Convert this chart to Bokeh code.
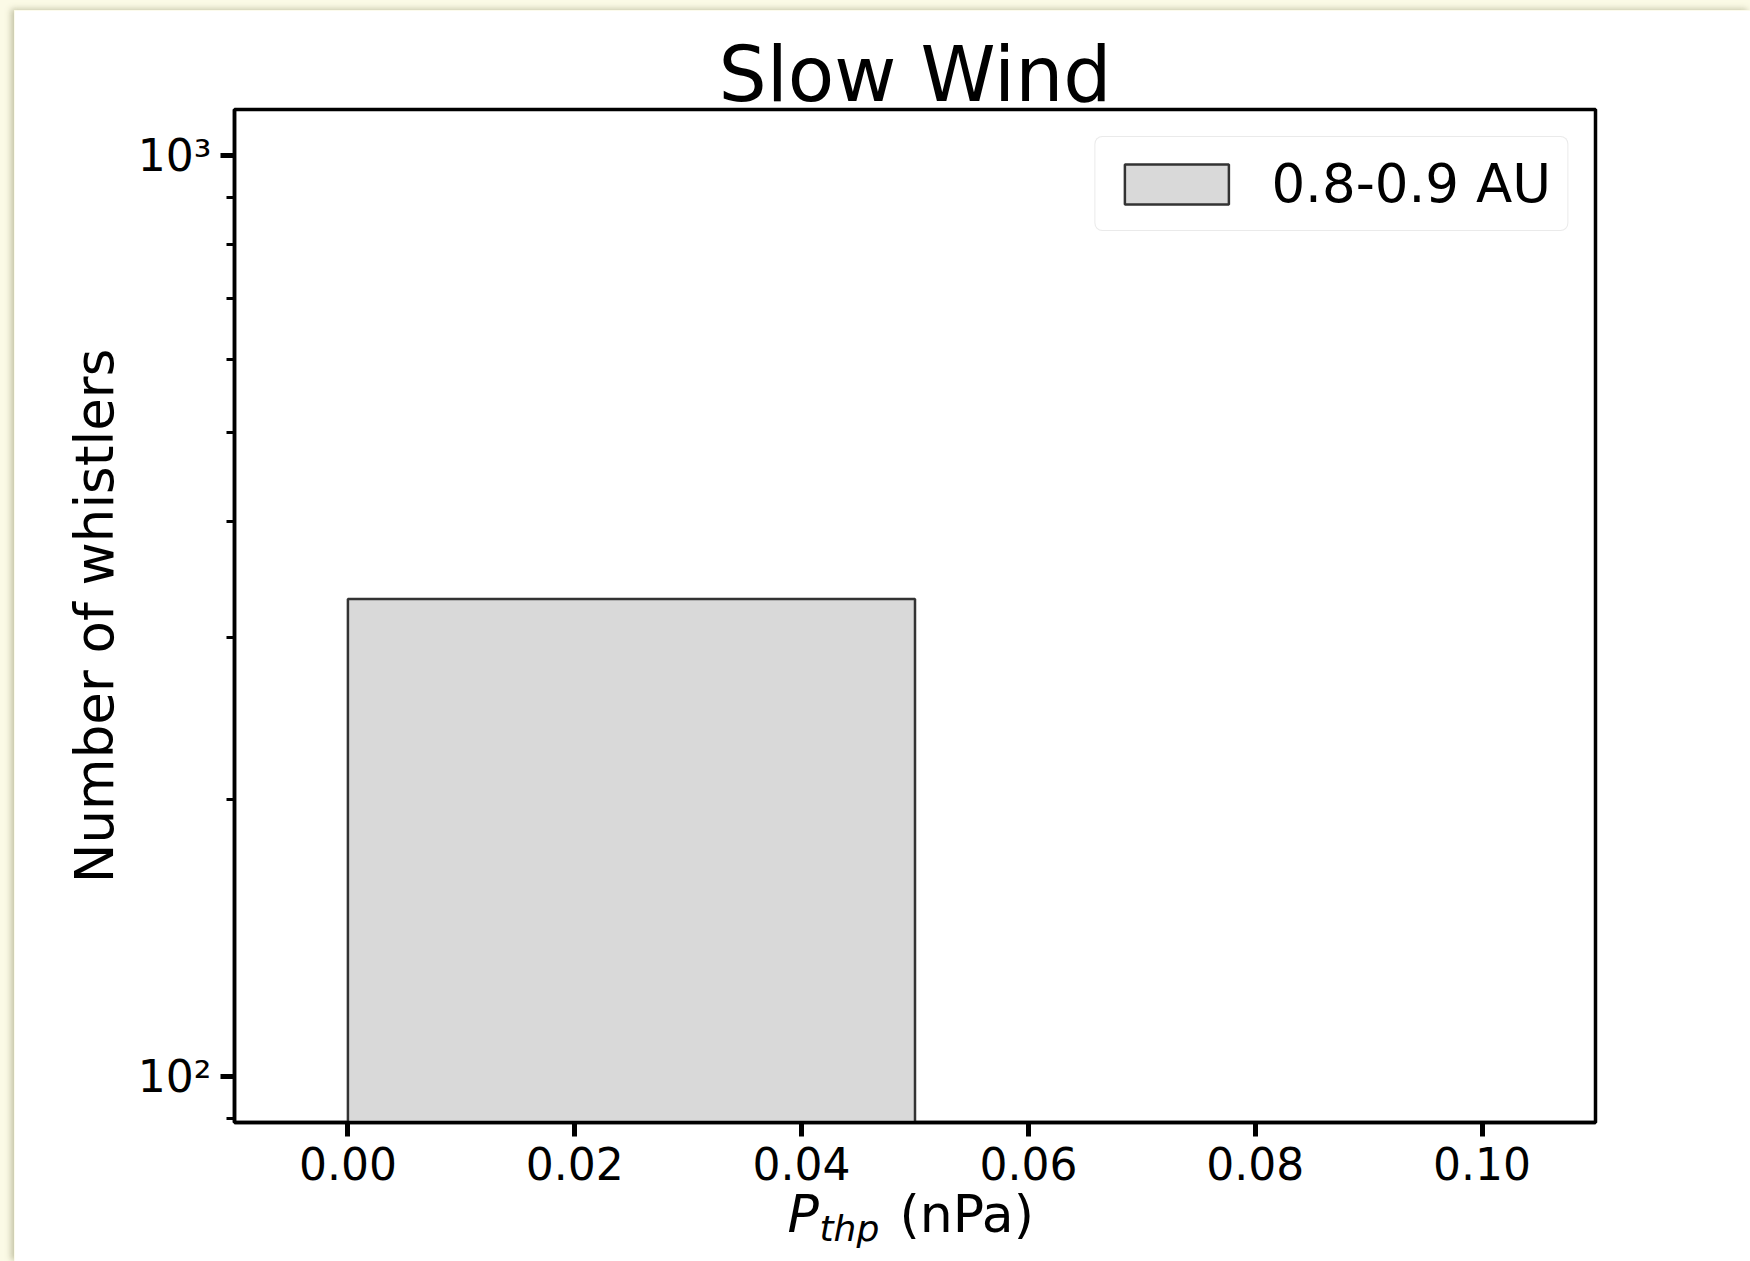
from bokeh.plotting import figure
from bokeh.models import Range1d, FixedTicker, Label, Legend, LegendItem
from bokeh.layouts import column
from bokeh.embed import file_html
from bokeh.resources import INLINE

# ---- data ----
bin_left = [0.00]
bin_right = [0.05]
counts = [330]
series_label = "0.8-0.9 AU"

x_ticks = [0.00, 0.02, 0.04, 0.06, 0.08, 0.10]
x_tick_labels = ["0.00", "0.02", "0.04", "0.06", "0.08", "0.10"]
y_ticks = [100, 1000]
y_tick_labels = ["10\u00b2", "10\u00b3"]
y_minor = [90, 200, 300, 400, 500, 600, 700, 800, 900]

title_text = "Slow Wind"
y_label = "Number of whistlers"
x_label_main = "P"
x_label_sub = "thp"
x_label_unit = "(nPa)"

FONT = "DejaVu Sans"

p = figure(width=1736, height=1251,
           x_range=Range1d(-0.01, 0.11), y_range=Range1d(89.1, 1122),
           y_axis_type="log", output_backend="svg", toolbar_location=None,
           min_border_left=220, min_border_right=155,
           min_border_top=99, min_border_bottom=139,
           title=title_text)
p.margin = (10, 0, 0, 14)
p.styles = {"box-shadow": "-3px -1px 6px rgba(130,130,90,0.45)"}
p.background_fill_color = "white"
p.border_fill_color = "white"
p.grid.visible = False
p.outline_line_color = "black"
p.outline_line_width = 3.5
p.outline_line_alpha = 1.0

p.title.text_font = FONT
p.title.text_font_size = "76px"
p.title.text_font_style = "normal"
p.title.align = "center"
p.title.text_color = "black"
p.title.standoff = -18

r = p.quad(left=bin_left, right=bin_right, top=counts, bottom=[1] * len(counts),
           fill_color="#d9d9d9", line_color="#333333", line_width=2.5)

for ax in (p.xaxis[0], p.yaxis[0]):
    ax.axis_line_width = 3.5
    ax.axis_line_color = "black"
    ax.major_tick_in = 0
    ax.major_tick_out = 14
    ax.major_tick_line_width = 5
    ax.major_tick_line_color = "black"
    ax.minor_tick_in = 0
    ax.minor_tick_out = 8
    ax.minor_tick_line_width = 3
    ax.minor_tick_line_color = "black"
    ax.major_label_text_font = FONT
    ax.major_label_text_font_size = "44px"
    ax.major_label_text_color = "black"

p.xaxis[0].ticker = FixedTicker(ticks=x_ticks, minor_ticks=[])
p.xaxis[0].major_label_overrides = {t: l for t, l in zip(x_ticks, x_tick_labels)}
p.xaxis[0].major_label_standoff = 10

p.yaxis[0].ticker = FixedTicker(ticks=y_ticks, minor_ticks=y_minor)
p.yaxis[0].major_label_overrides = {t: l for t, l in zip(y_ticks, y_tick_labels)}
p.yaxis[0].major_label_standoff = 9
p.yaxis[0].axis_label = y_label
p.yaxis[0].axis_label_text_font = FONT
p.yaxis[0].axis_label_text_font_size = "53px"
p.yaxis[0].axis_label_text_font_style = "normal"
p.yaxis[0].axis_label_text_color = "black"
p.yaxis[0].axis_label_standoff = 10

legend = Legend(items=[LegendItem(label=series_label, renderers=[r])],
                location="top_right", margin=27, padding=16, spacing=0,
                glyph_width=130, glyph_height=50, label_height=38,
                label_standoff=30, label_text_font=FONT,
                label_text_font_size="53px", label_text_color="black",
                border_line_color="#d6d6d6", border_line_width=1.5,
                background_fill_color="white", background_fill_alpha=1.0)
try:
    legend.border_radius = 8
except Exception:
    pass
p.add_layout(legend)

# x-axis label: italic P with italic subscript "thp", then "(nPa)".
# Positioned in canvas pixels; each part sits in a side panel that has
# spare room, so the plot frame keeps its size.
lab_p = Label(x=773, y=1203, x_units="canvas", y_units="canvas", text=x_label_main,
              text_font=FONT, text_font_size="52px", text_font_style="italic",
              text_color="black", text_baseline="alphabetic", text_align="left")
lab_sub = Label(x=805, y=1218, x_units="canvas", y_units="canvas", text=x_label_sub,
                text_font=FONT, text_font_size="36px", text_font_style="italic",
                text_color="black", text_baseline="alphabetic", text_align="left")
lab_unit = Label(x=885, y=1203, x_units="canvas", y_units="canvas", text=x_label_unit,
                 text_font=FONT, text_font_size="52px", text_font_style="normal",
                 text_color="black", text_baseline="alphabetic", text_align="left")
p.add_layout(lab_p, "left")
p.add_layout(lab_sub, "right")
p.add_layout(lab_unit, "below")

root = column(p, width=1750, height=1261,
              styles={"background-color": "#fbfae6"})

open("out.html", "w").write(file_html(root, INLINE))
